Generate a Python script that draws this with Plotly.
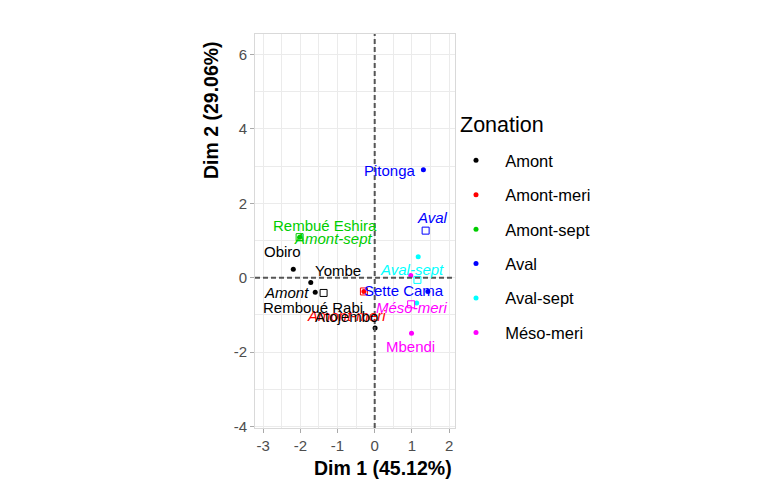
import plotly.graph_objects as go

# Zonation groups and their colours
zones = ["Amont", "Amont-meri", "Amont-sept", "Aval", "Aval-sept", "Méso-meri"]
zone_colors = ["#000000", "#FF0000", "#00CD00", "#0000FF", "#00FFFF", "#FF00FF"]

# Individual sites (PCA coordinates on the first two dimensions)
site_names = ["Obiro", "Yombe", "Remboué Rabi", "Atojembo", "",
              "Rembué Eshira", "Pitonga", "Sette Cama", "", "", "", "Mbendi"]
site_zone = ["Amont", "Amont", "Amont", "Amont", "Amont-meri",
             "Amont-sept", "Aval", "Aval", "Aval-sept", "Aval-sept",
             "Méso-meri", "Méso-meri"]
dim1 = [-2.19, -1.72, -1.60, 0.01, -0.29, -2.02, 1.31, 1.43, 1.17, 1.13, 0.97, 0.99]
dim2 = [0.23, -0.13, -0.39, -1.35, -0.37, 1.09, 2.90, -0.37, 0.56, -0.68, 0.06, -1.49]

x_ticks = [-3, -2, -1, 0, 1, 2]
y_ticks = [-4, -2, 0, 2, 4, 6]

# Repelled label placement (data coordinates)
site_label_pos = {
    "Obiro": (-2.49, 0.70),
    "Yombe": (-1.00, 0.19),
    "Remboué Rabi": (-1.65, -0.80),
    "Atojembo": (-0.76, -1.04),
    "Rembué Eshira": (-1.33, 1.40),
    "Pitonga": (0.40, 2.88),
    "Sette Cama": (0.78, -0.35),
    "Mbendi": (0.97, -1.85),
}
zone_label_pos = {
    "Amont": (-2.38, -0.40),
    "Amont-meri": (-0.76, -1.02),
    "Amont-sept": (-1.11, 1.05),
    "Aval": (1.56, 1.62),
    "Aval-sept": (0.99, 0.22),
    "Méso-meri": (0.99, -0.80),
}

FONT = "Liberation Sans, Arial, sans-serif"
NBSP = "\u00a0"
color_of = dict(zip(zones, zone_colors))

fig = go.Figure()

annotations = []
for z in zones:
    xs = [x for x, g in zip(dim1, site_zone) if g == z]
    ys = [y for y, g in zip(dim2, site_zone) if g == z]
    fig.add_trace(go.Scatter(
        x=xs, y=ys, mode="markers", name=NBSP * 2 + z, legendgroup=z,
        marker=dict(color=color_of[z], size=5, line=dict(width=0)),
    ))
    # group centroid
    cx, cy = sum(xs) / len(xs), sum(ys) / len(ys)
    fig.add_trace(go.Scatter(
        x=[cx], y=[cy], mode="markers", showlegend=False, legendgroup=z,
        marker=dict(symbol="square-open", color=color_of[z], size=7,
                    line=dict(width=1)),
    ))
    lx, ly = zone_label_pos[z]
    annotations.append(dict(
        x=lx, y=ly, xref="x", yref="y", text=z, showarrow=False,
        font=dict(family=FONT, size=15, color=color_of[z], style="italic"),
    ))

for name, g in zip(site_names, site_zone):
    if name:
        lx, ly = site_label_pos[name]
        annotations.append(dict(
            x=lx, y=ly, xref="x", yref="y", text=name, showarrow=False,
            font=dict(family=FONT, size=15, color=color_of[g]),
        ))

# reference lines through the origin
fig.add_vline(x=0, line=dict(color="#555555", width=2, dash="5px,3px"), layer="above")
fig.add_hline(y=0, line=dict(color="#555555", width=2, dash="5px,3px"), layer="above")

# axis titles
annotations.append(dict(
    x=0.64, y=-0.102, xref="paper", yref="paper", text="<b>Dim 1 (45.12%)</b>",
    showarrow=False, xanchor="center", yanchor="middle",
    font=dict(family=FONT, size=19.5, color="#000000"),
))
annotations.append(dict(
    x=-0.22, y=0.807, xref="paper", yref="paper", text="<b>Dim 2 (29.06%)</b>",
    showarrow=False, xanchor="center", yanchor="middle", textangle=-90,
    font=dict(family=FONT, size=19.5, color="#000000"),
))
# legend heading
annotations.append(dict(
    x=(458 - 255) / 200, y=(428 - 125) / 394, xref="paper", yref="paper",
    text="Zonation", showarrow=False, xanchor="left", yanchor="middle",
    font=dict(family=FONT, size=21.5, color="#000000"),
))

grid = "#EBEBEB"
fig.update_layout(
    width=779, height=486,
    margin=dict(l=255, r=324, t=34, b=58, autoexpand=False),
    paper_bgcolor="white", plot_bgcolor="white",
    font=dict(family=FONT, size=15, color="#4D4D4D"),
    annotations=annotations,
    showlegend=True,
    legend=dict(
        font=dict(family=FONT, size=16.5, color="#000000"),
        xref="container", yref="container",
        x=456 / 779, y=1 - 143 / 486, xanchor="left", yanchor="top",
        tracegroupgap=10, itemsizing="trace", bgcolor="rgba(0,0,0,0)",
    ),
    xaxis=dict(
        range=[-3.22, 2.16], tickvals=x_ticks, ticktext=[str(v) for v in x_ticks],
        showgrid=True, gridcolor=grid,
        gridwidth=1, zeroline=False, showline=True, mirror=True,
        linecolor="#D9D9D9", linewidth=1, ticks="outside", ticklen=4,
        tickcolor="#AAAAAA", tickfont=dict(size=15, color="#4D4D4D"),
        minor=dict(dtick=0.5, tick0=0, showgrid=True, gridcolor=grid, gridwidth=1),
    ),
    yaxis=dict(
        range=[-4.04, 6.55], tickvals=y_ticks, ticktext=[str(v) for v in y_ticks],
        showgrid=True, gridcolor=grid,
        gridwidth=1, zeroline=False, showline=True, mirror=True,
        linecolor="#D9D9D9", linewidth=1, ticks="outside", ticklen=4,
        tickcolor="#AAAAAA", tickfont=dict(size=15, color="#4D4D4D"),
        minor=dict(dtick=1, tick0=0, showgrid=True, gridcolor=grid, gridwidth=1),
    ),
)

fig.write_html("out.html")
